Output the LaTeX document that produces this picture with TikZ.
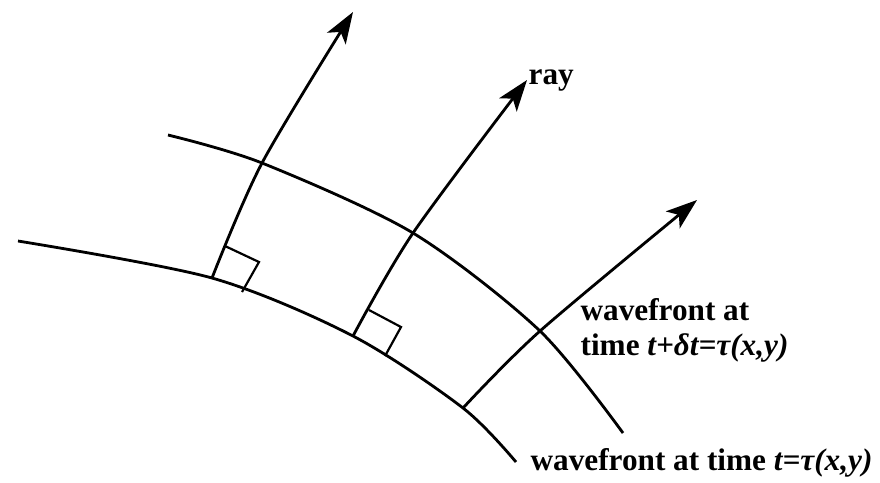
\documentclass[tikz,border=0pt]{standalone}
\usepackage{fontspec}
\setmainfont{Liberation Serif}
\usetikzlibrary{arrows.meta}

\tikzset{
  front/.style={line width=0.9pt},
  ray/.style={line width=0.9pt,-{Stealth[length=10pt,width=7pt,inset=2.5pt]}},
  corner/.style={line width=0.7pt},
  lbl/.style={font=\fontsize{10}{12}\selectfont\bfseries,inner sep=0pt,anchor=base west}
}

\begin{document}
\begin{tikzpicture}[x=0.32pt,y=-0.32pt]
		\useasboundingbox (0,0) rectangle (880,482);
		
		% Points on the wavefronts
		\coordinate (a0) at (18,241);
		\coordinate (a1) at (212,278);
		\coordinate (a2) at (353,336);
		\coordinate (a3) at (463,408);
		\coordinate (a4) at (516,462);
		\coordinate (b0) at (168,135);
		\coordinate (b1) at (262,163);
		\coordinate (b2) at (413,233);
		\coordinate (b3) at (540,331);
		\coordinate (b4) at (623,433);
		
		% Arrow heads
		\coordinate (h1) at (353,12);
		\coordinate (h2) at (527,80);
		\coordinate (h3) at (697,200);
		
		% Wavefronts
		\draw[front] plot[smooth] coordinates {(a0) (a1) (a2) (a3) (a4)};
		\draw[front] plot[smooth] coordinates {(b0) (b1) (b2) (b3) (b4)};
		
		% Rays
		\draw[ray] plot[smooth] coordinates {(a1) (b1) (h1)};
		\draw[ray] plot[smooth] coordinates {(a2) (b2) (h2)};
		\draw[ray] plot[smooth] coordinates {(a3) (b3) (h3)};
		
		% Right angles
		\draw[corner] (225,246) -- (259,262) -- (242,292);
		\draw[corner] (369,310) -- (401,327) -- (385,356);
		
		% Labels
		\node[lbl] (raylbl) at (528,84) {ray};
		\node[lbl] (newfront) at (580,320) {wavefront at};
		\node[lbl] (newtime) at (580,355) {time \textit{t+δt=τ(x,y)}};
		\node[lbl] (oldfront) at (530,470) {wavefront at time \textit{t=τ(x,y)}};
		
	\end{tikzpicture}
\end{document}
